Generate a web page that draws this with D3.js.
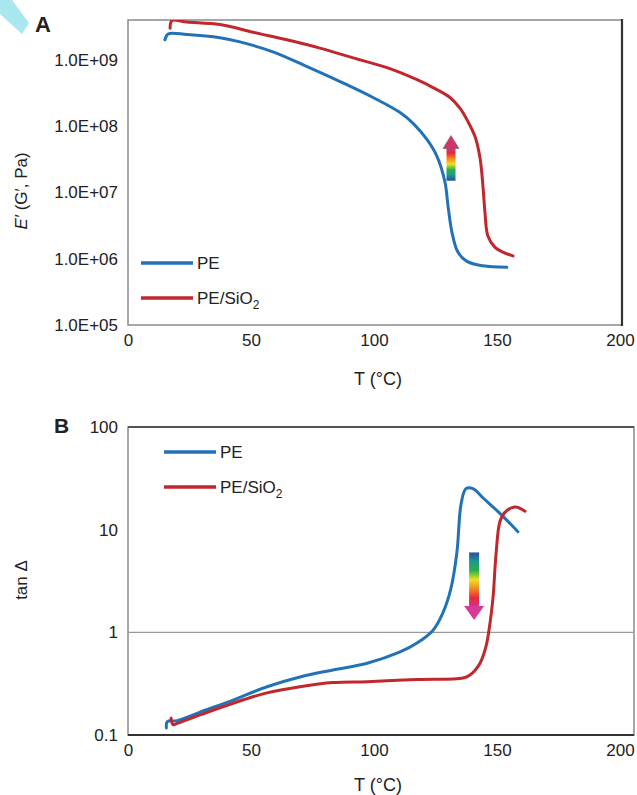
<!DOCTYPE html>
<html>
<head>
<meta charset="utf-8">
<script src="https://d3js.org/d3.v7.min.js"></script>
<style>
  body { margin: 0; background: #fff; }
  text { font-family: "Liberation Sans", Arial, sans-serif; fill: #222; }
</style>
</head>
<body>
<svg width="637" height="795" id="mainsvg"></svg>
<script>
// ---- data ----
const xTicks = [0, 50, 100, 150, 200];

// panel A: storage modulus E' (Pa) vs T (°C)
const yTicksA = [1e5, 1e6, 1e7, 1e8, 1e9];
const yTickLabelsA = ['1.0E+05', '1.0E+06', '1.0E+07', '1.0E+08', '1.0E+09'];
const peT_A = [15.0, 16.3, 24, 37.4, 45.5, 58.9, 72.8, 86.2, 99.6, 110.6, 115.9, 121.5, 125.6, 128.9, 130.1, 131.7, 134.1, 137.8, 144.3, 154];
const peE_A = [2.0e9, 2.45e9, 2.4e9, 2.15e9, 1.86e9, 1.32e9, 7.9e8, 4.7e8, 2.7e8, 1.6e8, 1.1e8, 6.3e7, 3.5e7, 1.4e7, 6.2e6, 2.5e6, 1.26e6, 9.1e5, 7.8e5, 7.4e5];
const siT_A = [17.1, 17.9, 24, 37.4, 50.8, 64.6, 78, 91.5, 105.3, 117.5, 124.0, 130.9, 135.0, 138.2, 141.1, 143.1, 144.3, 145.1, 146.3, 149.2, 152.4, 156.5];
const siE_A = [3.0e9, 3.9e9, 3.7e9, 3.4e9, 2.6e9, 2.0e9, 1.5e9, 1.07e9, 7.6e8, 5.0e8, 3.8e8, 2.7e8, 1.85e8, 1.17e8, 6.9e7, 3.3e7, 1.23e7, 5.0e6, 2.2e6, 1.48e6, 1.26e6, 1.1e6];

// panel B: tan delta vs T (°C)
const yTicksB = [0.1, 1, 10, 100];
const yTickLabelsB = ['0.1', '1', '10', '100'];
const peT_B = [15.6, 16.0, 20, 29.3, 42.7, 56.5, 69.9, 83.3, 97.2, 110.6, 117.5, 124.0, 128.0, 131.3, 133.7, 135.4, 137.4, 140.2, 144.7, 151.6, 158.5];
const peTan_B = [0.117, 0.135, 0.138, 0.167, 0.219, 0.295, 0.367, 0.430, 0.50, 0.645, 0.787, 1.05, 1.55, 2.7, 6.0, 17.8, 25.1, 25.1, 20, 14.1, 9.55];
const siT_B = [17.5, 18.3, 20, 29.3, 42.7, 56.5, 69.9, 83.3, 97.2, 117.5, 136.2, 139.0, 143.1, 145.5, 147.2, 148.4, 149.6, 151.2, 153.3, 157.3, 161.4];
const siTan_B = [0.146, 0.126, 0.13, 0.157, 0.204, 0.257, 0.295, 0.324, 0.331, 0.347, 0.359, 0.384, 0.501, 0.724, 1.25, 2.2, 5.75, 12.0, 14.8, 16.6, 15.1];

const seriesNames = ['PE', 'PE/SiO'];
const colors = ['#2272b8', '#c1272d'];

// ---- layout ----
const svg = d3.select('#mainsvg');
const defs = svg.append('defs');

// cyan corner ribbon
svg.append('polygon')
  .attr('points', '0,0 12,0 29,23 22,34 0,14')
  .attr('fill', '#a8e8ee');

const xScale = d3.scaleLinear().domain([0, 200]).range([128, 620]);
const yA = d3.scaleLog().domain([1e5, Math.pow(10, 9.6)]).range([325, 20]);
const yB = d3.scaleLog().domain([0.1, 100]).range([735, 427]);

function frame(y, right, id) {
  const [y0, y1] = [y.range()[1], y.range()[0]];
  defs.append('clipPath').attr('id', id)
    .append('rect').attr('x', 128).attr('y', y0).attr('width', right - 128).attr('height', y1 - y0);
  const g = svg.append('g');
  g.append('rect').attr('x', 128).attr('y', y0).attr('width', right - 128).attr('height', y1 - y0)
    .attr('fill', '#fff').attr('stroke', '#8a8a8a').attr('stroke-width', 1.5);
  return g;
}

function axes(y, ticks, labels, tickBaseline, titleY) {
  const xAxis = d3.axisBottom(xScale).tickValues(xTicks).tickSize(0).tickPadding(0);
  svg.append('g').attr('transform', `translate(0, ${tickBaseline})`).call(xAxis)
    .call(g => g.select('.domain').remove())
    .call(g => g.selectAll('text').attr('font-size', 17).attr('fill', '#222').attr('dy', 0));
  const yAxis = d3.axisLeft(y).tickValues(ticks).tickFormat((d, i) => labels[i]).tickSize(0).tickPadding(10);
  svg.append('g').attr('transform', 'translate(128, 0)').call(yAxis)
    .call(g => g.select('.domain').remove())
    .call(g => g.selectAll('text').attr('font-size', 17).attr('fill', '#222'));
  svg.append('text').attr('x', 378).attr('y', titleY).attr('text-anchor', 'middle')
    .attr('font-size', 18).text('T (°C)');
}

function drawLine(g, y, xs, ys, color, clip) {
  const pts = xs.map((t, i) => [t, ys[i]]);
  const line = d3.line().x(d => xScale(d[0])).y(d => y(d[1])).curve(d3.curveCatmullRom.alpha(0.5));
  g.append('path').attr('d', line(pts)).attr('fill', 'none')
    .attr('stroke', color).attr('stroke-width', 3).attr('stroke-linecap', 'round')
    .attr('clip-path', `url(#${clip})`);
}

function legend(lx, ly, gap) {
  seriesNames.forEach((name, i) => {
    const yy = ly + i * gap;
    svg.append('line').attr('x1', lx).attr('x2', lx + 52).attr('y1', yy).attr('y2', yy)
      .attr('stroke', colors[i]).attr('stroke-width', 3.5);
    const t = svg.append('text').attr('x', lx + 56).attr('y', yy + 6).attr('font-size', 17).text(name);
    if (i === 1) t.append('tspan').attr('font-size', 12).attr('dy', 5).text('2');
  });
}

function gradient(id, stops, vertical) {
  const lg = defs.append('linearGradient').attr('id', id)
    .attr('x1', 0).attr('x2', 0).attr('y1', vertical[0]).attr('y2', vertical[1]);
  stops.forEach((c, i) => lg.append('stop').attr('offset', i / (stops.length - 1)).attr('stop-color', c));
}
const rainbow = ['#2a4aa8', '#1a9a8a', '#2bb04a', '#f0e020', '#f08a20', '#e8283c', '#d8308a'];

// ---- panel A ----
const gA = frame(yA, 622, 'clipA');
svg.append('line').attr('x1', 622).attr('x2', 622).attr('y1', 19).attr('y2', 326)
  .attr('stroke', '#333').attr('stroke-width', 2.2);
drawLine(gA, yA, peT_A, peE_A, colors[0], 'clipA');
drawLine(gA, yA, siT_A, siE_A, colors[1], 'clipA');
axes(yA, yTicksA, yTickLabelsA, 346, 385);
legend(141, 263, 35);

// upward rainbow arrow
gradient('gradA', rainbow, [1, 0]);
{
  const cx = xScale(131.3), yb = yA(1.5e7), yt = yA(7.2e7);
  svg.append('rect').attr('x', cx - 4.5).attr('y', yt + 12).attr('width', 9).attr('height', yb - yt - 12)
    .attr('fill', 'url(#gradA)');
  svg.append('polygon').attr('points', `${cx - 8},${yt + 13} ${cx + 8},${yt + 13} ${cx},${yt}`)
    .attr('fill', '#d8306a').attr('stroke', '#666').attr('stroke-width', 0.6);
}

svg.append('text').attr('x', 35).attr('y', 32).attr('font-size', 22).attr('font-weight', 'bold').text('A');
svg.append('text').attr('transform', 'translate(27, 191) rotate(-90)').attr('text-anchor', 'middle')
  .attr('font-size', 17)
  .call(t => {
    t.append('tspan').attr('font-style', 'italic').text('E′');
    t.append('tspan').text(' (G′, Pa)');
  });

// ---- panel B ----
const gB = frame(yB, 634, 'clipB');
svg.append('line').attr('x1', 128).attr('x2', 634).attr('y1', 427).attr('y2', 427)
  .attr('stroke', '#555').attr('stroke-width', 2);
svg.append('line').attr('x1', 128).attr('x2', 634).attr('y1', 735).attr('y2', 735)
  .attr('stroke', '#333').attr('stroke-width', 2);
gB.append('line').attr('x1', 128).attr('x2', 634).attr('y1', yB(1)).attr('y2', yB(1))
  .attr('stroke', '#9a9a9a').attr('stroke-width', 1.3);
drawLine(gB, yB, peT_B, peTan_B, colors[0], 'clipB');
drawLine(gB, yB, siT_B, siTan_B, colors[1], 'clipB');
axes(yB, yTicksB, yTickLabelsB, 756, 791);
legend(164, 452, 35);

// downward rainbow arrow
gradient('gradB', rainbow, [0, 1]);
{
  const cx = xScale(140.7), yt = yB(6.0), yb = yB(1.32);
  svg.append('rect').attr('x', cx - 5).attr('y', yt).attr('width', 10).attr('height', yb - yt - 13)
    .attr('fill', 'url(#gradB)');
  svg.append('polygon').attr('points', `${cx - 10},${yb - 14} ${cx + 10},${yb - 14} ${cx},${yb}`)
    .attr('fill', '#d83a9a');
}

svg.append('text').attr('x', 54).attr('y', 433).attr('font-size', 21).attr('font-weight', 'bold').text('B');
svg.append('text').attr('transform', 'translate(27, 580) rotate(-90)').attr('text-anchor', 'middle')
  .attr('font-size', 17).text('tan Δ');
</script>
</body>
</html>
